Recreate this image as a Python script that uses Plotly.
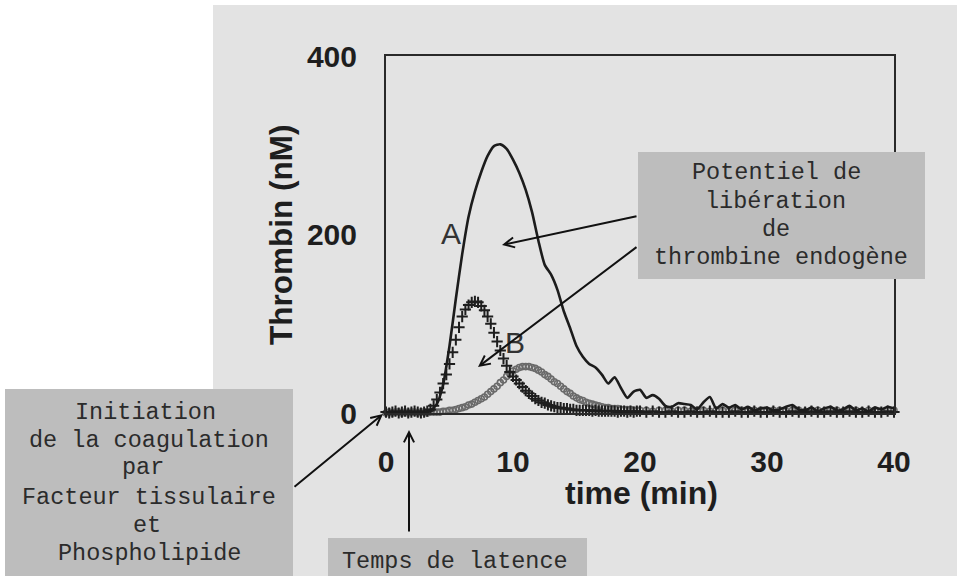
import plotly.graph_objects as go

# ---------------- data ----------------
# curve A (solid line), sampled every 0.5 min
time_A = [0, 0.5, 1, 1.5, 2, 2.5, 3, 3.5, 4, 4.5, 5, 5.5, 6, 6.5, 7, 7.5, 8, 8.5, 9, 9.5,
          10, 10.5, 11, 11.5, 12, 12.5, 13, 13.5, 14, 14.5, 15, 15.5, 16, 16.5, 17, 17.5, 18, 18.5, 19, 19.5,
          20, 20.5, 21, 21.5, 22, 22.5, 23, 23.5, 24, 24.5, 25, 25.5, 26, 26.5, 27, 27.5, 28, 28.5, 29, 29.5,
          30, 30.5, 31, 31.5, 32, 32.5, 33, 33.5, 34, 34.5, 35, 35.5, 36, 36.5, 37, 37.5, 38, 38.5, 39, 39.5, 40]
curve_A = [0, 1, 0, 1, 0, 1, 1, 3, 10, 32, 75, 128, 178, 220, 248, 270, 288, 299, 301, 296,
           284, 269, 250, 225, 193, 166, 155, 138, 114, 95, 75, 63, 55, 51, 43, 33, 40, 28, 17, 24,
           26, 17, 20, 16, 8, 7, 11, 10, 9, 4, 12, 18, 5, 10, 6, 9, 4, 7, 3, 5,
           6, 3, 4, 7, 9, 4, 3, 6, 2, 5, 7, 3, 4, 8, 3, 5, 2, 6, 4, 7, 5]

# marker curves, sampled every 0.25 min up to 20 min, then every 0.5 min
time_M = [0, 0.25, 0.5, 0.75, 1, 1.25, 1.5, 1.75, 2, 2.25, 2.5, 2.75, 3, 3.25, 3.5, 3.75,
          4, 4.25, 4.5, 4.75, 5, 5.25, 5.5, 5.75, 6, 6.25, 6.5, 6.75, 7, 7.25, 7.5, 7.75,
          8, 8.25, 8.5, 8.75, 9, 9.25, 9.5, 9.75, 10, 10.25, 10.5, 10.75, 11, 11.25, 11.5, 11.75,
          12, 12.25, 12.5, 12.75, 13, 13.25, 13.5, 13.75, 14, 14.25, 14.5, 14.75, 15, 15.25, 15.5, 15.75,
          16, 16.25, 16.5, 16.75, 17, 17.25, 17.5, 17.75, 18, 18.25, 18.5, 18.75, 19, 19.25, 19.5, 19.75,
          20, 20.5, 21, 21.5, 22, 22.5, 23, 23.5, 24, 24.5, 25, 25.5, 26, 26.5, 27, 27.5, 28, 28.5, 29, 29.5,
          30, 30.5, 31, 31.5, 32, 32.5, 33, 33.5, 34, 34.5, 35, 35.5, 36, 36.5, 37, 37.5, 38, 38.5, 39, 39.5, 40]
curve_plus = [1, 0, 1, 2, 0, 1, 2, 0, 1, 2, 1, 0, 1, 2, 4, 8,
              15, 23, 33, 43, 55, 68, 82, 96, 108, 116, 121, 124, 125, 124, 120, 115,
              108, 100, 90, 80, 70, 61, 53, 46, 41, 37, 33, 29, 25, 22, 19, 16,
              14, 12, 11, 9, 8, 7, 6, 6, 5, 5, 4, 4, 3, 3, 3, 3,
              3, 2, 3, 2, 2, 2, 2, 2, 2, 1, 2, 2, 1, 2, 1, 2,
              2, 1, 2, 1, 1, 2, 1, 1, 2, 1, 1, 2, 1, 1, 1, 2, 1, 1, 2, 1,
              1, 2, 1, 1, 2, 1, 1, 2, 1, 1, 2, 1, 1, 2, 1, 1, 2, 1, 1, 2, 1]
curve_circle = [0, 1, 0, 1, 1, 0, 1, 0, 1, 1, 0, 1, 1, 0, 1, 1,
                1, 1, 2, 2, 3, 3, 4, 5, 6, 7, 9, 10, 12, 14, 16, 18,
                21, 24, 27, 30, 34, 37, 41, 44, 47, 49, 51, 52, 52, 52, 51, 50,
                48, 46, 43, 41, 38, 35, 33, 30, 27, 24, 22, 19, 17, 15, 14, 12,
                11, 10, 9, 8, 7, 6, 6, 5, 5, 5, 4, 4, 4, 4, 3, 3,
                3, 3, 2, 3, 3, 2, 3, 3, 2, 3, 3, 2, 3, 3, 2, 3, 3, 2, 3, 3,
                2, 3, 3, 2, 3, 3, 2, 3, 3, 2, 3, 3, 2, 3, 3, 2, 3, 3, 2, 3, 3]

x_ticks = [0, 10, 20, 30, 40]
y_ticks = [0, 200, 400]

box_potentiel = ["Potentiel de", "libération", "de", "thrombine endogène"]
box_initiation = ["Initiation", "de la coagulation", "par", "Facteur tissulaire", "et", "Phospholipide"]
box_temps = ["Temps de latence"]

# ---------------- layout geometry (pixels) ----------------
W, H = 957, 576
L, R, T, B = 386, 894, 56, 413
PW, PH = R - L, B - T

def px(xp):
    return (xp - L) / PW

def py(yp):
    return (B - yp) / PH

BG = "#e3e3e3"
BOX = "#bdbdbd"
TXT = "#2b2b2b"
MONO = "Liberation Mono, Courier New, monospace"
SANS = "Liberation Sans, Arial, sans-serif"

fig = go.Figure()

fig.add_trace(go.Scatter(
    x=time_M, y=curve_circle, mode="markers", cliponaxis=False,
    marker=dict(symbol="circle-open", size=6, color="#6a6a6a", line=dict(width=1.6, color="#6a6a6a")),
    showlegend=False))
fig.add_trace(go.Scatter(
    x=time_M, y=curve_plus, mode="markers", cliponaxis=False,
    marker=dict(symbol="cross-thin-open", size=8, color="#1e1e1e", line=dict(width=2, color="#1e1e1e")),
    showlegend=False))
fig.add_trace(go.Scatter(
    x=time_A, y=curve_A, mode="lines", cliponaxis=False,
    line=dict(color="#1c1c1c", width=2.6, shape="spline", smoothing=0.6),
    showlegend=False))

shapes = [
    dict(type="rect", xref="paper", yref="paper", layer="below",
         x0=px(213), x1=px(W + 5), y0=py(H + 5), y1=py(5),
         fillcolor=BG, line=dict(width=0)),
    dict(type="rect", xref="paper", yref="paper", layer="above",
         x0=px(638), x1=px(925), y0=py(279), y1=py(152),
         fillcolor=BOX, line=dict(width=0)),
    dict(type="rect", xref="paper", yref="paper", layer="above",
         x0=px(5), x1=px(293), y0=py(H + 5), y1=py(389),
         fillcolor=BOX, line=dict(width=0)),
    dict(type="rect", xref="paper", yref="paper", layer="above",
         x0=px(328), x1=px(587), y0=py(H + 5), y1=py(538),
         fillcolor=BOX, line=dict(width=0)),
]

annotations = []

def box_lines(lines, xs, ys):
    for txt, xc, yc in zip(lines, xs, ys):
        annotations.append(dict(
            text=txt, x=px(xc), y=py(yc), xref="paper", yref="paper", showarrow=False,
            xanchor="center", yanchor="middle", align="center",
            font=dict(family=MONO, size=23.5, color=TXT)))

box_lines(box_potentiel, [776, 775, 776, 781], [172, 201, 229, 257])
box_lines(box_initiation, [145, 149, 143, 148.5, 146.5, 149], [412, 440, 468, 497, 525, 553])
box_lines(box_temps, [455], [561])

annotations += [
    dict(text="A", x=px(451), y=py(233), xref="paper", yref="paper", showarrow=False,
         xanchor="center", yanchor="middle", font=dict(family=SANS, size=30, color="#333333")),
    dict(text="B", x=px(515), y=py(342), xref="paper", yref="paper", showarrow=False,
         xanchor="center", yanchor="middle", font=dict(family=SANS, size=30, color="#333333")),
    dict(text="time (min)", x=px(641), y=py(493), xref="paper", yref="paper", showarrow=False,
         xanchor="center", yanchor="middle",
         font=dict(family=SANS, size=32, color="#1e1e1e", weight="bold")),
    dict(text="Thrombin (nM)", x=px(281), y=py(235), xref="paper", yref="paper", showarrow=False,
         xanchor="center", yanchor="middle", textangle=-90,
         font=dict(family=SANS, size=31.5, color="#1e1e1e", weight="bold")),
]

# arrows: (tail_x, tail_y, head_x, head_y) in pixels
arrows = [(638, 216, 502, 245), (638, 246, 478, 367), (293, 488, 383, 414), (409, 533, 409, 430)]
for tx, ty, hx, hy in arrows:
    annotations.append(dict(
        text="", x=px(hx), y=py(hy), xref="paper", yref="paper",
        showarrow=True, ax=tx - hx, ay=ty - hy, axref="pixel", ayref="pixel",
        arrowhead=5, arrowsize=1, arrowwidth=2, arrowcolor="#111111", standoff=0, startstandoff=0))

fig.update_layout(
    width=W, height=H,
    margin=dict(l=L, r=W - R, t=T, b=H - B, autoexpand=False),
    paper_bgcolor="white", plot_bgcolor="rgba(0,0,0,0)",
    shapes=shapes, annotations=annotations,
    showlegend=False,
)
fig.update_xaxes(range=[0, 40], tickvals=x_ticks, ticktext=[str(v) for v in x_ticks],
                 showgrid=False, zeroline=False, showline=True, mirror=True,
                 linecolor="#2a2a2a", linewidth=2,
                 ticks="outside", ticklen=21, tickcolor="rgba(0,0,0,0)",
                 tickfont=dict(family=SANS, size=30, color="#1e1e1e", weight="bold"),
                 automargin=False)
fig.update_yaxes(range=[0, 400], tickvals=y_ticks, ticktext=[str(v) for v in y_ticks],
                 showgrid=False, zeroline=False, showline=True, mirror=True,
                 linecolor="#2a2a2a", linewidth=2,
                 ticks="outside", ticklen=21, tickcolor="rgba(0,0,0,0)",
                 tickfont=dict(family=SANS, size=30, color="#1e1e1e", weight="bold"),
                 automargin=False)

fig.write_html("out.html", config={"displayModeBar": False},
               post_script="document.body.style.margin='0px';document.body.style.overflow='hidden';")
